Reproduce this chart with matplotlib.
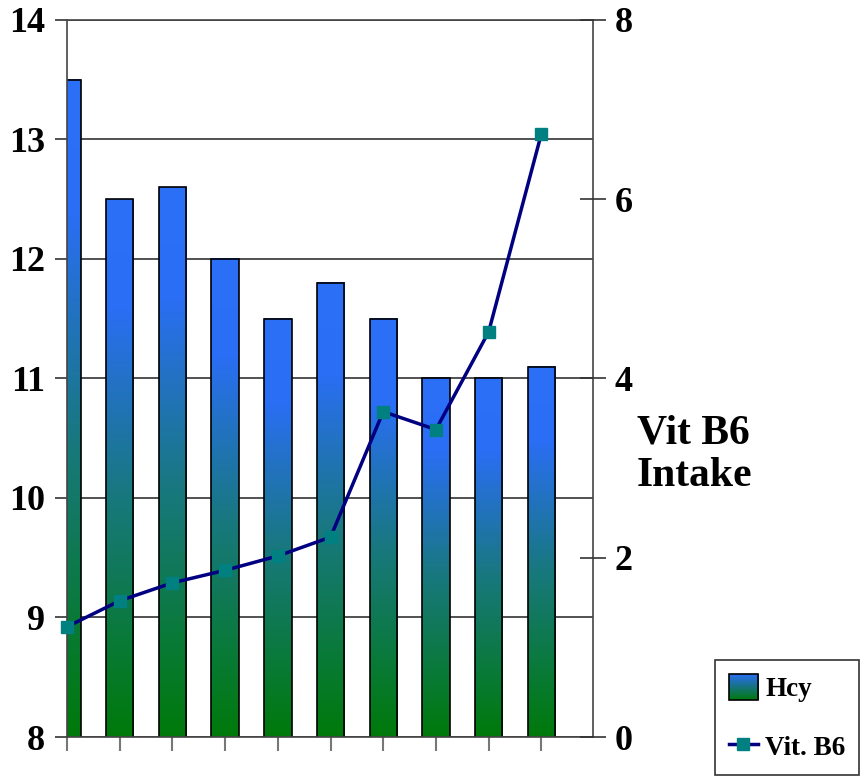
import numpy as np
import matplotlib
matplotlib.use("Agg")
import matplotlib.pyplot as plt
from matplotlib.colors import LinearSegmentedColormap
from matplotlib.image import BboxImage
from matplotlib.transforms import Bbox, TransformedBbox
from matplotlib.legend_handler import HandlerPatch
from matplotlib.patches import Rectangle
from matplotlib.lines import Line2D

plt.rcParams['font.family'] = ['Liberation Serif', 'DejaVu Serif']
plt.rcParams['font.weight'] = 'bold'

# data
groups = list(range(10))
hcy = [13.5, 12.5, 12.6, 12.0, 11.5, 11.8, 11.5, 11.0, 11.0, 11.1]
vit_b6 = [1.23, 1.52, 1.72, 1.86, 2.02, 2.23, 3.63, 3.43, 4.52, 6.73]
left_ticks = [8, 9, 10, 11, 12, 13, 14]
right_ticks = [0, 2, 4, 6, 8]

cmap = LinearSegmentedColormap.from_list(
    'hcy', [(0.0, '#007a0a'), (0.45, '#18787e'), (0.8, '#2a6ef5'), (1.0, '#2c70f8')])
grad = np.linspace(0, 1, 256).reshape(-1, 1)

fig = plt.figure(figsize=(8.61, 7.77), dpi=100)
ax = fig.add_axes([67/861, 1-737/777, 526/861, 717/777])
xmin, xmax = 0, 9.98
ax.set_axisbelow(True)
ax.yaxis.grid(True, color='#333333', lw=1.2)

bars = ax.bar(groups, hcy, width=0.52, facecolor='none', edgecolor='black', lw=1.2, zorder=2)
for b in bars:
    x0, w, top = b.get_x(), b.get_width(), b.get_height()
    x1 = x0 + w
    im = ax.imshow(grad, cmap=cmap, origin='lower', aspect='auto',
                   extent=[max(x0, xmin), x1, 8, top], zorder=1, interpolation='bilinear')
ax.set_xlim(xmin, xmax)
ax.set_ylim(8, 14)

ax.set_xticks(groups)
ax.set_xticklabels([])
ax.set_yticks(left_ticks)
ax.tick_params(axis='x', direction='out', length=10, width=1.5, color='#777777')
ax.tick_params(axis='y', direction='out', length=9, width=1.2, color='#333333',
               labelsize=26, pad=7)
for s in ['left', 'bottom', 'top', 'right']:
    ax.spines[s].set_color('#444444')
    ax.spines[s].set_linewidth(1.2)

ax2 = ax.twinx()
ax2.set_ylim(0, 8)
ax2.set_yticks(right_ticks)
ax2.tick_params(axis='y', direction='inout', length=19, width=1.2, color='#333333',
                labelsize=26, pad=6)
for s in ['left', 'bottom', 'top', 'right']:
    ax2.spines[s].set_visible(False)
ax2.plot(groups, vit_b6, color='#000080', lw=2.5, marker='s', markersize=8,
         markerfacecolor='#008080', markeredgecolor='#008080', clip_on=False, zorder=3)

fig.text(637/861, 1-455/777, 'Vit B6\nIntake', fontsize=30, fontweight='bold',
         ha='left', va='center', linespacing=1.15)


class GradientHandler(HandlerPatch):
    def create_artists(self, legend, orig_handle, xdescent, ydescent,
                       width, height, fontsize, trans):
        bb = TransformedBbox(Bbox.from_bounds(-xdescent, -ydescent, width, height), trans)
        img = BboxImage(bb, cmap=LinearSegmentedColormap.from_list('l', ['#007a0a', '#2a6ef5']),
                        origin='lower', interpolation='bilinear')
        img.set_data(grad)
        rect = Rectangle((-xdescent, -ydescent), width, height, facecolor='none',
                         edgecolor='black', lw=1.2, transform=trans)
        return [img, rect]


hcy_handle = Rectangle((0, 0), 1, 1, facecolor='#1a7a80', edgecolor='black')
b6_handle = Line2D([], [], color='#000080', lw=2.5, marker='s', markersize=8,
                   markerfacecolor='#008080', markeredgecolor='#008080')
leg = fig.legend([hcy_handle, b6_handle], ['Hcy', 'Vit. B6'],
                 handler_map={Rectangle: GradientHandler()},
                 loc='upper left', bbox_to_anchor=(715/861, 1-660/777),
                 bbox_transform=fig.transFigure, fontsize=19.5, frameon=True,
                 fancybox=False, edgecolor='#333333', framealpha=1,
                 handlelength=1.1, handleheight=1.1, handletextpad=0.25,
                 labelspacing=1.15, borderpad=0.5, borderaxespad=0)
leg.get_frame().set_linewidth(1.2)

fig.savefig('out.png', dpi=100)
